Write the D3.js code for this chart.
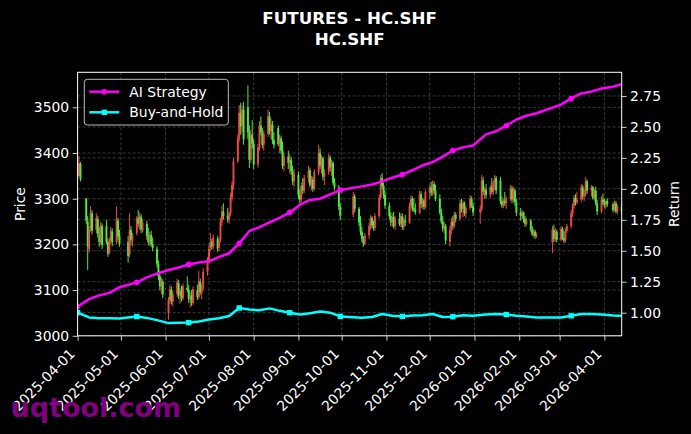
<!DOCTYPE html>
<html>
<head>
<meta charset="utf-8">
<script src="https://cdn.jsdelivr.net/npm/d3@7"></script>
<style>
html, body { margin: 0; padding: 0; background: #000; }
svg { display: block; font-family: "DejaVu Sans", sans-serif; }
</style>
</head>
<body>
<svg id="chart" width="691" height="434"></svg>
<script>
"use strict";

// ---- data -------------------------------------------------------------
const startDate = "2025-04-01";
const endDate = "2026-04-13";
// exchange holidays that fall on weekdays
const holidays = [
    "2025-04-04", "2025-05-01", "2025-05-02", "2025-05-05", "2025-06-02",
    "2025-10-01", "2025-10-02", "2025-10-03", "2025-10-06", "2025-10-07", "2025-10-08",
    "2026-01-01", "2026-01-02",
    "2026-02-16", "2026-02-17", "2026-02-18", "2026-02-19", "2026-02-20", "2026-02-23",
    "2026-04-06"
];

// daily candles, one row per month
const opens = [
    3372,3350,3376,3300,3250,3190,3235,3268,3232,3255,3220,3205,3240,3240,3205,3182,3208,3228,3205,3252,3220,
    3205,3178,3232,3208,3225,3258,3245,3260,3230,3245,3218,3205,3220,3200,3190,3158,3130,3110,3118,
    3050,3078,3100,3075,3092,3115,3088,3098,3082,3105,3100,3080,3088,3072,3100,3085,3118,3095,3105,3140,
    3165,3192,3205,3195,3212,3192,3210,3250,3272,3262,3255,3268,3302,3330,3382,3432,3488,3460,3495,3500,3445,3385,3440,
    3420,3375,3412,3460,3445,3418,3442,3480,3448,3462,3428,3455,3420,3432,3405,3372,3392,3378,3385,3360,3338,
    3352,3308,3298,3328,3318,3345,3362,3330,3342,3322,3358,3400,3372,3388,3348,3358,3390,3368,3378,3335,3325,3282,
    3265,3305,3278,3248,3228,3212,3202,3220,3240,3258,3242,3236,3262,3302,3345,3328,3308,
    3285,3262,3248,3260,3240,3255,3245,3262,3238,3252,3248,3285,3300,3280,3276,3270,3310,3288,3296,3282,
    3315,3325,3312,3332,3318,3300,3270,3250,3235,3240,3205,3232,3250,3240,3265,3256,3290,3278,3290,3268,3280,3300,3285,
    3270,3278,3340,3315,3320,3308,3325,3315,3335,3345,3340,3295,3285,3296,3290,3300,3322,3298,3318,3292,
    3270,3262,3270,3255,3245,3252,3232,3222,3228,3218,3205,3232,3212,3228,
    3210,3234,3215,3208,3230,3240,3268,3285,3302,3292,3298,3325,3305,3312,3338,3318,3325,3302,3318,3290,3272,3298,
    3292,3286,3295,3288,3275,3290,3272,3282
];
const highs = [
    3385,3393,3380,3302,3262,3240,3284,3275,3268,3262,3238,3250,3246,3254,3212,3215,3238,3235,3283,3258,3232,
    3218,3268,3240,3225,3262,3275,3270,3266,3255,3252,3236,3228,3230,3215,3196,3165,3142,3128,3124,
    3085,3112,3108,3098,3125,3122,3105,3110,3115,3130,3112,3095,3100,3108,3112,3142,3125,3112,3148,3172,
    3198,3225,3212,3222,3218,3215,3258,3285,3290,3280,3272,3312,3338,3390,3440,3505,3510,3505,3512,3548,3460,3450,3472,
    3430,3420,3470,3480,3455,3450,3495,3490,3475,3470,3445,3460,3440,3438,3425,3400,3405,3398,3392,3372,3365,
    3360,3320,3335,3345,3352,3372,3368,3350,3348,3365,3418,3410,3395,3392,3365,3399,3395,3385,3382,3345,3330,3290,
    3315,3310,3282,3262,3238,3218,3225,3248,3264,3262,3252,3268,3310,3352,3356,3335,3318,
    3292,3270,3268,3271,3262,3270,3268,3268,3258,3265,3292,3308,3305,3300,3290,3318,3316,3302,3300,3320,
    3330,3337,3340,3338,3330,3310,3278,3262,3250,3245,3240,3258,3262,3272,3270,3298,3300,3296,3294,3284,3308,3305,3292,
    3285,3352,3348,3325,3332,3330,3345,3340,3352,3350,3348,3305,3300,3315,3305,3330,3328,3326,3322,3300,
    3280,3275,3272,3262,3258,3256,3240,3235,3232,3226,3240,3243,3236,3232,
    3240,3238,3228,3236,3245,3275,3290,3308,3310,3315,3333,3330,3320,3348,3342,3330,3328,3322,3326,3298,3305,3311,
    3300,3298,3301,3292,3296,3295,3288,3290
];
const lows = [
    3345,3348,3338,3245,3144,3182,3228,3222,3225,3215,3195,3200,3190,3200,3173,3178,3200,3196,3200,3210,3195,
    3160,3172,3198,3195,3220,3238,3232,3225,3226,3210,3198,3196,3195,3185,3150,3122,3100,3092,3082,
    3035,3070,3068,3064,3085,3080,3070,3075,3078,3095,3072,3062,3065,3068,3078,3080,3090,3080,3100,3132,
    3158,3185,3188,3190,3184,3186,3205,3240,3255,3248,3245,3262,3295,3320,3378,3425,3440,3445,3418,3430,3367,3378,3410,
    3365,3368,3405,3438,3410,3405,3435,3440,3430,3420,3410,3415,3400,3398,3365,3360,3365,3355,3352,3330,3325,
    3300,3290,3292,3310,3312,3335,3325,3318,3315,3318,3352,3365,3355,3340,3330,3352,3360,3350,3330,3318,3275,3253,
    3260,3270,3240,3220,3205,3195,3198,3212,3232,3235,3230,3230,3258,3298,3320,3300,3278,
    3255,3240,3238,3235,3232,3240,3238,3232,3231,3240,3245,3275,3272,3271,3265,3266,3280,3278,3275,3278,
    3300,3305,3306,3310,3295,3265,3245,3228,3225,3200,3195,3222,3232,3236,3248,3252,3270,3260,3262,3258,3275,3280,3262,
    3245,3272,3308,3300,3300,3302,3310,3308,3318,3310,3288,3280,3279,3284,3278,3295,3290,3292,3285,3262,
    3252,3255,3248,3238,3240,3228,3218,3215,3212,3214,3181,3205,3206,3204,
    3206,3210,3203,3204,3225,3235,3260,3278,3285,3288,3292,3298,3295,3305,3310,3305,3298,3296,3285,3264,3268,3286,
    3280,3278,3282,3270,3272,3268,3266,3264
];
const closes = [
    3352,3378,3342,3252,3195,3232,3270,3230,3258,3222,3205,3242,3198,3205,3180,3208,3230,3205,3255,3218,3202,
    3175,3230,3210,3220,3255,3245,3262,3232,3248,3218,3205,3222,3200,3192,3158,3130,3108,3120,3090,
    3078,3102,3075,3090,3118,3088,3098,3082,3108,3100,3080,3088,3072,3102,3085,3120,3096,3105,3140,3165,
    3190,3205,3195,3215,3192,3208,3250,3272,3262,3255,3268,3302,3330,3382,3432,3488,3458,3495,3430,3445,3385,3440,3420,
    3375,3412,3460,3445,3418,3442,3480,3448,3462,3428,3418,3420,3432,3405,3372,3392,3378,3385,3360,3338,3355,
    3308,3298,3328,3318,3345,3362,3330,3342,3322,3358,3400,3372,3388,3348,3358,3390,3368,3378,3335,3325,3282,3262,
    3305,3278,3248,3228,3212,3202,3220,3240,3258,3242,3236,3262,3302,3345,3328,3308,3285,
    3262,3248,3260,3240,3255,3245,3262,3238,3252,3248,3285,3300,3280,3276,3270,3310,3288,3296,3282,3315,
    3325,3312,3332,3318,3300,3270,3250,3235,3240,3208,3232,3250,3240,3265,3256,3290,3278,3290,3268,3280,3300,3285,3270,
    3278,3340,3315,3320,3308,3325,3315,3335,3345,3318,3295,3285,3296,3290,3300,3322,3298,3318,3292,3270,
    3262,3270,3255,3245,3252,3232,3222,3228,3218,3220,3232,3212,3228,3210,
    3234,3215,3208,3230,3240,3268,3285,3302,3292,3298,3325,3305,3312,3338,3318,3325,3302,3318,3290,3272,3298,3292,
    3286,3295,3288,3275,3290,3272,3282,3270
];

// return curves, read every 5th trading day (plus the last one)
const aiStrategy = [
    1.05,1.11,1.14,1.16,1.205,1.245,1.285,1.315,1.345,1.365,1.39,1.405,1.415,1.45,1.48,1.56,1.66,
    1.69,1.73,1.765,1.81,1.87,1.91,1.92,1.955,1.99,2.02,2.035,2.06,2.09,2.115,2.15,2.19,2.215,
    2.26,2.31,2.335,2.35,2.44,2.465,2.51,2.56,2.59,2.61,2.68,2.73,2.77,2.785,2.81,2.825,2.845
];
const buyHold = [
    1.0,0.962,0.955,0.955,0.953,0.969,0.958,0.94,0.916,0.919,0.92,0.929,0.945,0.955,0.973,1.038,1.025,
    1.02,1.035,1.015,1.0,0.985,0.995,1.01,1.0,0.97,0.96,0.965,0.99,0.975,0.97,0.978,0.98,0.99,
    0.965,0.968,0.98,0.975,0.985,0.99,0.985,0.975,0.97,0.962,0.962,0.975,0.99,0.99,0.985,0.978,0.975
];

const priceTicks = [3000, 3100, 3200, 3300, 3400, 3500];
const returnTicks = [1.0, 1.25, 1.5, 1.75, 2.0, 2.25, 2.5, 2.75];
const monthTicks = [
    "2025-04-01", "2025-05-01", "2025-06-01", "2025-07-01", "2025-08-01", "2025-09-01", "2025-10-01",
    "2025-11-01", "2025-12-01", "2026-01-01", "2026-02-01", "2026-03-01", "2026-04-01"
];

// ---- layout -----------------------------------------------------------
const plot = { left: 77.6, right: 621.7, top: 72.3, bottom: 335.8 };
const FS = 13.9; // 10pt at 100 dpi
const parse = d3.utcParse("%Y-%m-%d");
const fmt = d3.utcFormat("%Y-%m-%d");

const holidaySet = new Set(holidays);
const tradingDays = d3.utcDays(parse(startDate), d3.utcDay.offset(parse(endDate), 1))
    .filter(d => d.getUTCDay() % 6 !== 0 && !holidaySet.has(fmt(d)));

const sampleIdx = d3.range(0, tradingDays.length, 5).concat([tradingDays.length - 1]);

const x = d3.scaleUtc()
    .domain([parse(startDate), parse(endDate)])
    .range([plot.left, plot.right]);
const yPrice = d3.scaleLinear().domain([3000, 3576.6]).range([plot.bottom, plot.top]);
const yRet = d3.scaleLinear().domain([0.8135, 2.941]).range([plot.bottom, plot.top]);

const svg = d3.select("#chart");
svg.append("rect").attr("width", 691).attr("height", 434).attr("fill", "#000");

svg.append("defs").append("clipPath").attr("id", "plotClip")
    .append("rect")
    .attr("x", plot.left).attr("y", plot.top)
    .attr("width", plot.right - plot.left).attr("height", plot.bottom - plot.top);

// ---- grid -------------------------------------------------------------
const grid = svg.append("g")
    .attr("stroke", "#4a4a4a")
    .attr("stroke-width", 0.8)
    .attr("stroke-dasharray", "3,2");

grid.selectAll("line.gx").data(monthTicks).join("line")
    .attr("x1", d => x(parse(d))).attr("x2", d => x(parse(d)))
    .attr("y1", plot.top).attr("y2", plot.bottom);
grid.selectAll("line.gp").data(priceTicks).join("line")
    .attr("x1", plot.left).attr("x2", plot.right)
    .attr("y1", d => yPrice(d)).attr("y2", d => yPrice(d));
grid.selectAll("line.gr").data(returnTicks).join("line")
    .attr("x1", plot.left).attr("x2", plot.right)
    .attr("y1", d => yRet(d)).attr("y2", d => yRet(d));

// ---- candles ----------------------------------------------------------
const upColor = "#ff5050";
const downColor = "#55ff45";
const candles = svg.append("g").attr("clip-path", "url(#plotClip)").attr("opacity", 0.92);

const candleData = tradingDays.map((d, i) => ({
    date: d, o: opens[i], h: highs[i], l: lows[i], c: closes[i]
}));

candles.selectAll("line").data(candleData).join("line")
    .attr("x1", d => x(d.date)).attr("x2", d => x(d.date))
    .attr("y1", d => yPrice(d.h)).attr("y2", d => yPrice(d.l))
    .attr("stroke", d => d.c >= d.o ? upColor : downColor)
    .attr("stroke-width", 1);

candles.selectAll("rect").data(candleData).join("rect")
    .attr("x", d => x(d.date) - 0.95)
    .attr("width", 1.9)
    .attr("y", d => yPrice(Math.max(d.o, d.c)))
    .attr("height", d => Math.max(0.8, Math.abs(yPrice(d.o) - yPrice(d.c))))
    .attr("fill", d => d.c >= d.o ? upColor : downColor);

// ---- return lines -----------------------------------------------------
const curves = svg.append("g").attr("clip-path", "url(#plotClip)");

function drawCurve (values, color, marker) {
    const pts = values.map((v, k) => ({ date: tradingDays[sampleIdx[k]], v: v, idx: sampleIdx[k] }));
    curves.append("path")
        .attr("fill", "none")
        .attr("stroke", color)
        .attr("stroke-width", 2.5)
        .attr("stroke-linejoin", "round")
        .attr("d", d3.line().x(p => x(p.date)).y(p => yRet(p.v))(pts));

    const marked = pts.filter(p => p.idx % 25 === 0);
    if (marker === "circle") {
        curves.selectAll(null).data(marked).join("circle")
            .attr("cx", p => x(p.date)).attr("cy", p => yRet(p.v))
            .attr("r", 2.8).attr("fill", color);
    } else {
        curves.selectAll(null).data(marked).join("rect")
            .attr("x", p => x(p.date) - 2.7).attr("y", p => yRet(p.v) - 2.7)
            .attr("width", 5.4).attr("height", 5.4).attr("fill", color);
    }
}

drawCurve(buyHold, "#00ffff", "square");
drawCurve(aiStrategy, "#ff00ff", "circle");

// ---- axes -------------------------------------------------------------
function styleAxis (g) {
    g.select(".domain").remove();
    g.selectAll(".tick line").attr("stroke", "#fff").attr("stroke-width", 0.8);
    g.selectAll(".tick text").attr("fill", "#fff").attr("font-size", FS)
        .attr("font-family", "DejaVu Sans");
}

svg.append("g")
    .attr("transform", `translate(${plot.left},0)`)
    .call(d3.axisLeft(yPrice).tickValues(priceTicks).tickFormat(d3.format("d"))
        .tickSize(4.9).tickPadding(3.5))
    .call(styleAxis);

svg.append("g")
    .attr("transform", `translate(${plot.right},0)`)
    .call(d3.axisRight(yRet).tickValues(returnTicks).tickFormat(d3.format(".2f"))
        .tickSize(4.9).tickPadding(3.5))
    .call(styleAxis);

const xAxis = svg.append("g")
    .attr("transform", `translate(0,${plot.bottom})`)
    .call(d3.axisBottom(x).tickValues(monthTicks.map(parse)).tickFormat(fmt)
        .tickSize(4.9))
    .call(styleAxis);

xAxis.selectAll(".tick text")
    .attr("text-anchor", "end")
    .attr("dy", null)
    .attr("x", -2.3)
    .attr("y", 19)
    .attr("transform", "rotate(-45,-2.3,19)");

svg.append("rect")
    .attr("x", plot.left).attr("y", plot.top)
    .attr("width", plot.right - plot.left).attr("height", plot.bottom - plot.top)
    .attr("fill", "none").attr("stroke", "#fff").attr("stroke-width", 1);

svg.append("text")
    .attr("transform", `translate(25,${(plot.top + plot.bottom) / 2}) rotate(-90)`)
    .attr("text-anchor", "middle").attr("fill", "#fff").attr("font-size", FS)
    .text("Price");

svg.append("text")
    .attr("transform", `translate(679,${(plot.top + plot.bottom) / 2}) rotate(-90)`)
    .attr("text-anchor", "middle").attr("fill", "#fff").attr("font-size", FS)
    .text("Return");

// ---- legend -----------------------------------------------------------
const legend = svg.append("g");
legend.append("rect")
    .attr("x", 84.3).attr("y", 79.3).attr("width", 144).attr("height", 45.7)
    .attr("rx", 3).attr("fill", "#000").attr("fill-opacity", 0.8)
    .attr("stroke", "#bbb").attr("stroke-width", 1);

const legendItems = [
    { label: "AI Strategy", color: "#ff00ff", marker: "circle", y: 91.7 },
    { label: "Buy-and-Hold", color: "#00ffff", marker: "square", y: 112.3 }
];
legendItems.forEach(it => {
    legend.append("line")
        .attr("x1", 89.3).attr("x2", 119.3).attr("y1", it.y).attr("y2", it.y)
        .attr("stroke", it.color).attr("stroke-width", 2.5);
    if (it.marker === "circle") {
        legend.append("circle").attr("cx", 104.3).attr("cy", it.y).attr("r", 2.8).attr("fill", it.color);
    } else {
        legend.append("rect").attr("x", 101.6).attr("y", it.y - 2.7)
            .attr("width", 5.4).attr("height", 5.4).attr("fill", it.color);
    }
    legend.append("text")
        .attr("x", 129.3).attr("y", it.y + 4.8)
        .attr("fill", "#fff").attr("font-size", FS)
        .text(it.label);
});

// ---- title & watermark ------------------------------------------------
const cx = (plot.left + plot.right) / 2;
svg.append("text").attr("x", cx).attr("y", 24.2)
    .attr("text-anchor", "middle").attr("fill", "#fff")
    .attr("font-size", 16.7).attr("font-weight", "bold")
    .text("FUTURES - HC.SHF");
svg.append("text").attr("x", cx).attr("y", 45)
    .attr("text-anchor", "middle").attr("fill", "#fff")
    .attr("font-size", 16.7).attr("font-weight", "bold")
    .text("HC.SHF");

svg.append("text").attr("x", 10.5).attr("y", 417)
    .attr("fill", "#800080").attr("font-size", 27).attr("font-weight", "bold")
    .text("uqtool.com");
</script>
</body>
</html>
